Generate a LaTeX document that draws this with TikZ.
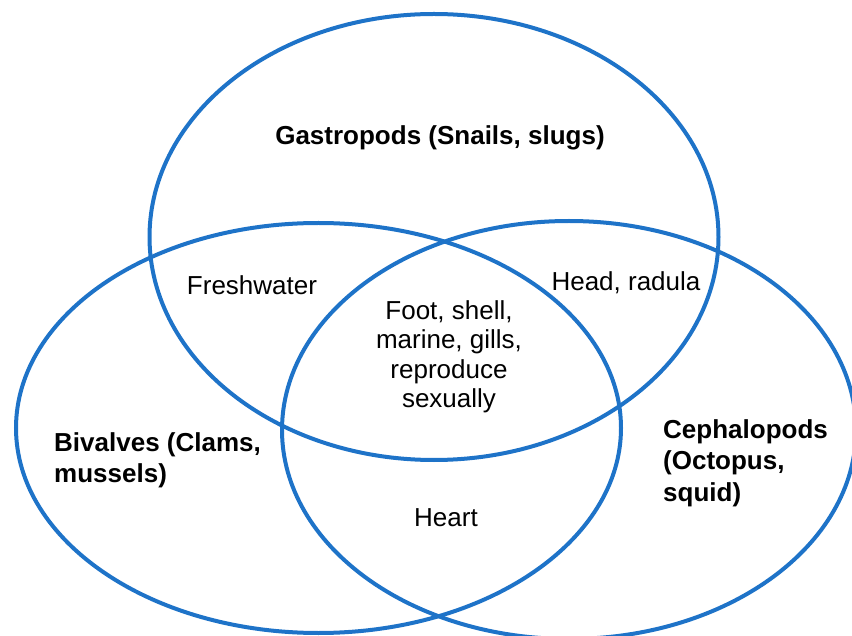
\documentclass[tikz,border=0pt]{standalone}
\usepackage{fontspec}
\setmainfont{Liberation Sans}
\usetikzlibrary{positioning}
\definecolor{ringc}{RGB}{30,115,200}
\tikzset{
  ring/.style={draw=ringc, line width=4pt},
  grp/.style={font=\bfseries\fontsize{26}{31.5}\selectfont, align=left, inner sep=0pt},
  trait/.style={font=\fontsize{26}{29.5}\selectfont, align=center, inner sep=0pt},
}

\begin{document}
\begin{tikzpicture}[x=1pt, y=-1pt]
  \clip (0,0) rectangle (852,636);
  % the three classes
  \draw[ring] (434,237)   ellipse [x radius=284.5, y radius=223];
  \draw[ring] (318.5,428) ellipse [x radius=302.5, y radius=205];
  \draw[ring] (569,430)   ellipse [x radius=287,   y radius=209];
  % group names
  \node[grp, align=center] (gas) at (440,138) {Gastropods (Snails, slugs)};
  \node[grp, anchor=north west] (biv) at (54,432) {Bivalves (Clams,\\mussels)};
  \node[grp, anchor=north west] (cep) at (663,419) {Cephalopods\\(Octopus,\\squid)};
  % shared traits
  \node[trait] (fresh) at (252,285) {Freshwater};
  \node[trait] (head)  at (626,283) {Head, radula};
  \node[trait] (core)  at (449,357) {Foot, shell,\\marine, gills,\\reproduce\\sexually};
  \node[trait] (heart) at (446,518) {Heart};
\end{tikzpicture}
\end{document}
